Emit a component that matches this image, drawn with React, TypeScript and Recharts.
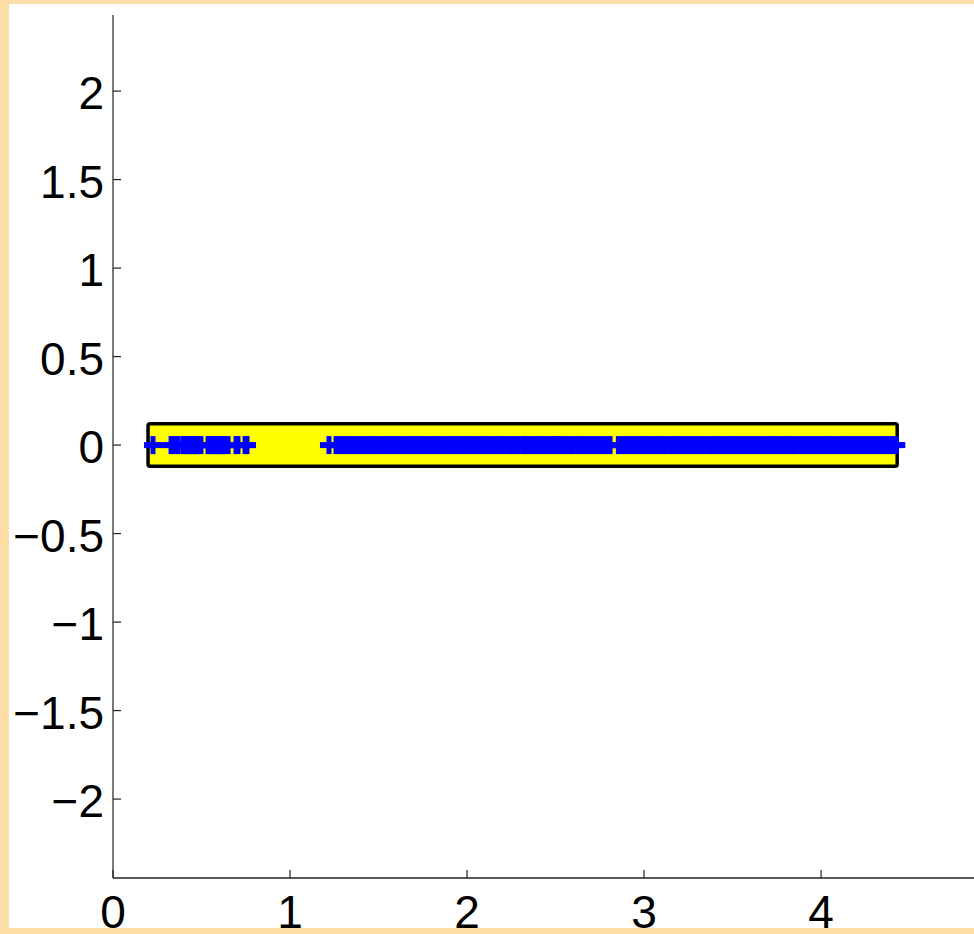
import React from "react";
import { ScatterChart, Scatter, XAxis, YAxis, ReferenceArea } from "recharts";

// ---- data ----
const xTicks = [0, 1, 2, 3, 4];
const yTicks = [-2, -1.5, -1, -0.5, 0, 0.5, 1, 1.5, 2];
const xDomain = [0, 4.864];
const yDomain = [-2.446, 2.43];

// bounding box (yellow rectangle)
const boxX = [0.198, 4.43];
const boxY = [-0.12, 0.12];

// marker positions (all at y = 0)
const clusterLeft = [
  0.226, 0.328, 0.35, 0.367, 0.395, 0.405, 0.415, 0.425, 0.435, 0.445, 0.455, 0.465, 0.475,
  0.485, 0.497, 0.537, 0.548, 0.558, 0.568, 0.58, 0.59, 0.6, 0.61, 0.62, 0.627, 0.65, 0.695,
  0.706, 0.746, 0.757,
];
const clusterMid = [
  1.22, 1.26, 1.285, 1.305, 1.33, 1.35,
  1.37, 1.39, 1.41, 1.43, 1.455, 1.47, 1.49, 1.515, 1.535, 1.55, 1.57, 1.595, 1.61, 1.63,
  1.65, 1.675, 1.69, 1.71, 1.735, 1.75, 1.77, 1.79, 1.815, 1.83, 1.85, 1.87, 1.895, 1.91,
  1.93, 1.955, 1.97, 1.99, 2.01, 2.03, 2.05, 2.075, 2.09, 2.11, 2.13, 2.155, 2.17, 2.19,
  2.21, 2.235, 2.25, 2.27, 2.29, 2.315, 2.33, 2.35, 2.37, 2.395, 2.41, 2.43, 2.45, 2.475,
  2.49, 2.51, 2.53, 2.555, 2.575, 2.6, 2.625, 2.645, 2.665, 2.69, 2.715, 2.735, 2.76,
  2.785, 2.808,
];
const clusterRight = [
  2.855, 2.875, 2.9, 2.92, 2.94, 2.96, 2.985, 3.0, 3.02, 3.045, 3.065, 3.085, 3.105, 3.125,
  3.15, 3.17, 3.19, 3.21, 3.23, 3.255, 3.275, 3.295, 3.315, 3.335, 3.36, 3.38, 3.4, 3.42,
  3.44, 3.465, 3.485, 3.505, 3.525, 3.545, 3.57, 3.59, 3.61, 3.63, 3.65, 3.675, 3.695,
  3.715, 3.735, 3.755, 3.78, 3.8, 3.82, 3.84, 3.86, 3.885, 3.905, 3.925, 3.945, 3.965,
  3.99, 4.01, 4.03, 4.05, 4.07, 4.095, 4.115, 4.135, 4.155, 4.175, 4.2, 4.22, 4.24, 4.26,
  4.28, 4.305, 4.325, 4.345, 4.365, 4.385, 4.405, 4.425,
];

const points = [...clusterLeft, ...clusterMid, ...clusterRight].map((x) => ({ x, y: 0 }));

const FONT = '"Liberation Sans", Arial, Helvetica, sans-serif';

const fmt = (v: number) => (v < 0 ? "\u2212" + String(-v) : String(v));

const PlusShape = (props: any) => {
  const { cx, cy } = props;
  if (cx == null || cy == null) return null;
  return (
    <g>
      <line x1={cx - 9} y1={cy} x2={cx + 9} y2={cy} stroke="#0000FF" strokeWidth={6} />
      <line x1={cx} y1={cy - 9} x2={cx} y2={cy + 9} stroke="#0000FF" strokeWidth={5} />
    </g>
  );
};

const XTick = (props: any) => {
  const { x, y, payload } = props;
  return (
    <g>
      <line x1={x} y1={y} x2={x} y2={y - 8} stroke="#222" strokeWidth={1.2} />
      <text x={x} y={y + 50} textAnchor="middle" fontSize={46} fontFamily={FONT} fill="#000">
        {fmt(payload.value)}
      </text>
    </g>
  );
};

const YTick = (props: any) => {
  const { x, y, payload } = props;
  return (
    <g>
      <line x1={x} y1={y} x2={x + 8} y2={y} stroke="#222" strokeWidth={1.2} />
      <text x={x - 9} y={y + 18} textAnchor="end" fontSize={46} fontFamily={FONT} fill="#000">
        {fmt(payload.value)}
      </text>
    </g>
  );
};

export default function App() {
  return (
    <div style={{ position: "fixed", left: 0, top: 0, width: 974, height: 934, background: "#FFDDA6" }}>
      <div
        style={{
          position: "absolute",
          left: 9,
          top: 4,
          width: 965,
          height: 924,
          background: "#FFFFFF",
          overflow: "hidden",
        }}
      >
        <div style={{ position: "absolute", left: -9, top: -4 }}>
          <ScatterChart width={974} height={934} margin={{ top: 15, right: 0, bottom: 6, left: 13 }}>
            <XAxis
              type="number"
              dataKey="x"
              domain={xDomain}
              ticks={xTicks}
              allowDataOverflow
              height={50}
              tickSize={0}
              tickMargin={0}
              tick={<XTick />}
              axisLine={{ stroke: "#222", strokeWidth: 1.3 }}
              tickLine={false}
            />
            <YAxis
              type="number"
              dataKey="y"
              domain={yDomain}
              ticks={yTicks}
              allowDataOverflow
              width={100}
              tickSize={0}
              tickMargin={0}
              tick={<YTick />}
              axisLine={{ stroke: "#333", strokeWidth: 1.3 }}
              tickLine={false}
            />
            <ReferenceArea
              x1={boxX[0]}
              x2={boxX[1]}
              y1={boxY[0]}
              y2={boxY[1]}
              fill="#FFFF00"
              fillOpacity={1}
              stroke="#000"
              strokeWidth={3.5}
              radius={2}
              ifOverflow="visible"
            />
            <Scatter data={points} shape={<PlusShape />} isAnimationActive={false} />
          </ScatterChart>
        </div>
      </div>
    </div>
  );
}
